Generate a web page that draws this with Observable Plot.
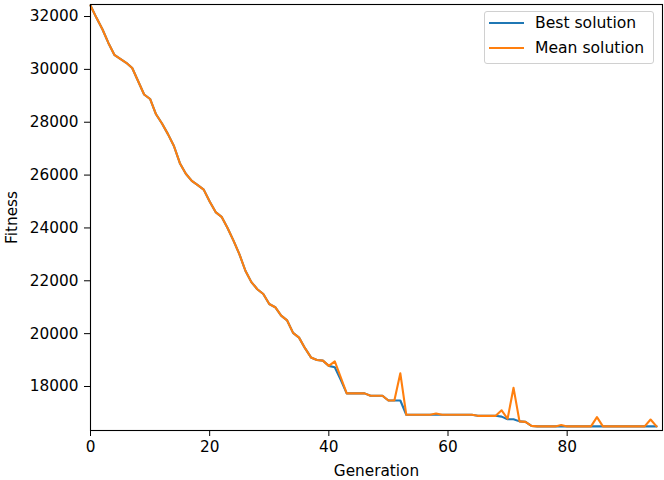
<!DOCTYPE html>
<html>
<head>
<meta charset="utf-8">
<script src="https://cdn.jsdelivr.net/npm/d3@7"></script>
<script src="https://cdn.jsdelivr.net/npm/@observablehq/plot@0.6"></script>
<style>
  body { margin: 0; background: #fff; }
  #wrap { position: relative; width: 664px; height: 480px; font-family: "DejaVu Sans", sans-serif; }
  #legend { position: absolute; left: 484px; top: 11px; width: 170px; height: 53px;
    border: 1px solid #d0d0d0; border-radius: 3px; background: rgba(255,255,255,0.8); box-sizing: border-box; }
  .item { position: absolute; left: 0; height: 20px; font-size: 15.6px; color: #000; }
  .swatch { position: absolute; left: 4px; width: 35px; height: 2px; }
  .lab { position: absolute; left: 50px; white-space: nowrap; line-height: 20px; top: -10px; }
</style>
</head>
<body>
<div id="wrap"></div>
<script>
// Series values
const best = [
  32420, 31950, 31520, 31000, 30550, 30400, 30250, 30050, 29550, 29050,
  28880, 28300, 27950, 27550, 27100, 26450, 26050, 25780, 25620, 25450,
  25000, 24600, 24420, 24000, 23520, 23000, 22380, 21950, 21680, 21500,
  21120, 21000, 20680, 20500, 20030, 19850, 19450, 19100, 19000, 18980,
  18780, 18730, 18250, 17740, 17740, 17740, 17740, 17650, 17650, 17650,
  17470, 17470, 17470, 16930, 16930, 16930, 16930, 16930, 16930, 16930,
  16930, 16930, 16930, 16930, 16930, 16890, 16890, 16890, 16890, 16860,
  16760, 16760, 16680, 16660, 16510, 16490, 16490, 16490, 16490, 16490,
  16490, 16490, 16490, 16490, 16490, 16490, 16490, 16490, 16490, 16490,
  16490, 16490, 16490, 16490, 16490, 16490
];
const mean = [
  32420, 31950, 31520, 31000, 30550, 30400, 30250, 30050, 29550, 29050,
  28880, 28300, 27950, 27550, 27100, 26450, 26050, 25780, 25620, 25450,
  25000, 24600, 24420, 24000, 23520, 23000, 22380, 21950, 21680, 21500,
  21120, 21000, 20680, 20500, 20030, 19850, 19450, 19100, 19000, 18980,
  18780, 18950, 18350, 17740, 17740, 17740, 17740, 17650, 17650, 17650,
  17470, 17470, 18500, 16930, 16930, 16930, 16930, 16930, 16980, 16930,
  16930, 16930, 16930, 16930, 16930, 16890, 16890, 16890, 16890, 17100,
  16780, 17950, 16680, 16660, 16510, 16490, 16490, 16490, 16490, 16540,
  16490, 16490, 16490, 16490, 16490, 16840, 16490, 16490, 16490, 16490,
  16490, 16490, 16490, 16490, 16750, 16490
];
const generations = d3.range(best.length);
const xTicks = [0, 20, 40, 60, 80];
const yTicks = [18000, 20000, 22000, 24000, 26000, 28000, 30000, 32000];
const seriesNames = ["Best solution", "Mean solution"];
const seriesColors = ["#1f77b4", "#ff7f0e"];

const rows = [];
generations.forEach((g, i) => {
  rows.push({gen: g, value: best[i], series: seriesNames[0]});
});
generations.forEach((g, i) => {
  rows.push({gen: g, value: mean[i], series: seriesNames[1]});
});

const chart = Plot.plot({
  width: 664,
  height: 480,
  marginLeft: 90,
  marginRight: 2,
  marginTop: 4,
  marginBottom: 50,
  style: {fontSize: "15.3px", fontFamily: "DejaVu Sans, sans-serif", color: "#000", background: "#fff"},
  x: {domain: [0, 96]},
  y: {domain: [16335, 32455]},
  color: {domain: seriesNames, range: seriesColors},
  marks: [
    Plot.line(rows, {x: "gen", y: "value", z: "series", stroke: "series", strokeWidth: 2.1}),
    Plot.frame({stroke: "#000", strokeWidth: 1.1}),
    Plot.axisX({ticks: xTicks, tickSize: 6, tickPadding: 5, tickFormat: d3.format("d"),
      label: "Generation", labelAnchor: "center", labelArrow: "none", labelOffset: 45}),
    Plot.axisY({ticks: yTicks, tickSize: 6, tickPadding: 6, tickFormat: d3.format("d"),
      label: "Fitness", labelAnchor: "center", labelArrow: "none", labelOffset: 84})
  ]
});

const wrap = document.getElementById("wrap");
wrap.appendChild(chart);

const legend = document.createElement("div");
legend.id = "legend";
seriesNames.forEach((name, i) => {
  const item = document.createElement("div");
  item.className = "item";
  item.style.top = (11 + i * 24.5) + "px";
  const sw = document.createElement("div");
  sw.className = "swatch";
  sw.style.background = seriesColors[i];
  sw.style.top = "-1px";
  const lab = document.createElement("div");
  lab.className = "lab";
  lab.textContent = name;
  item.appendChild(sw);
  item.appendChild(lab);
  legend.appendChild(item);
});
wrap.appendChild(legend);
</script>
</body>
</html>
